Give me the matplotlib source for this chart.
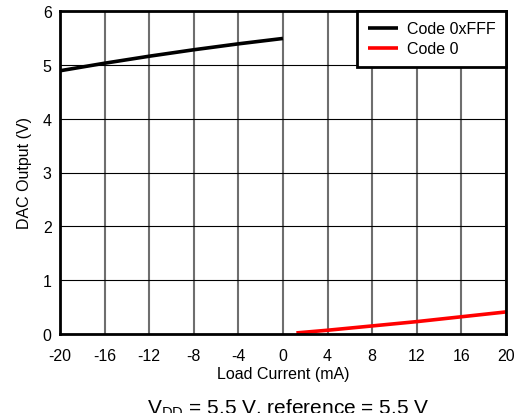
#!/usr/bin/env python3
"""DAC output vs load current, code 0xFFF and code 0."""

import matplotlib

matplotlib.use("Agg")
import matplotlib.pyplot as plt

plt.rcParams["font.family"] = ["Liberation Sans", "DejaVu Sans"]
plt.rcParams["axes.unicode_minus"] = False

# sourcing (negative) current, full-scale code
full_current = [-20, -16, -12, -8, -4, 0]
full_output = [4.89, 5.03, 5.16, 5.28, 5.39, 5.49]

# sinking (positive) current, zero code
zero_current = [1.2, 4, 8, 12, 16, 20]
zero_output = [0.02, 0.07, 0.15, 0.23, 0.32, 0.41]

x_ticks = [-20, -16, -12, -8, -4, 0, 4, 8, 12, 16, 20]
y_ticks = [0, 1, 2, 3, 4, 5, 6]


def main() -> None:
    fig = plt.figure(figsize=(5.28, 4.14), dpi=100)
    ax = fig.add_axes([60 / 528, 1 - 335 / 414, 446 / 528, 323 / 414])

    for x in x_ticks:
        ax.axvline(x, color="#6e6e6e", linewidth=1.5, zorder=1)
    for y in y_ticks:
        ax.axhline(y, color="black", linewidth=0.8, zorder=1)

    ax.plot(full_current, full_output, color="black", linewidth=2.6,
            label="Code 0xFFF", zorder=3, solid_capstyle="butt")
    ax.plot(zero_current, zero_output, color="#ff0000", linewidth=2.6,
            label="Code 0", zorder=3, solid_capstyle="butt")

    ax.set_xlim(-20, 20)
    ax.set_ylim(0, 6)
    ax.set_xticks(x_ticks)
    ax.set_yticks(y_ticks)
    ax.tick_params(length=0, labelsize=11.5)
    ax.tick_params(axis="x", pad=10)
    ax.tick_params(axis="y", pad=6)
    for spine in ax.spines.values():
        spine.set_linewidth(2)
        spine.set_zorder(4)

    ax.set_xlabel("Load Current (mA)", fontsize=11.5, labelpad=2)
    ax.set_ylabel("DAC Output (V)", fontsize=11.5, labelpad=8)

    leg = ax.legend(loc="upper right", fontsize=11.5, fancybox=False,
                    framealpha=1, edgecolor="black", borderaxespad=0,
                    handlelength=1.9, handletextpad=0.55, labelspacing=0.3,
                    borderpad=0.65)
    leg.get_frame().set_linewidth(2)
    leg.set_zorder(5)

    fig.text(288 / 528, 1 - 409 / 414, r"V$_{\mathregular{DD}}$ = 5.5 V, reference = 5.5 V",
             ha="center", va="center", fontsize=15)

    fig.savefig("out.png", dpi=100)
    plt.close(fig)


if __name__ == "__main__":
    main()
